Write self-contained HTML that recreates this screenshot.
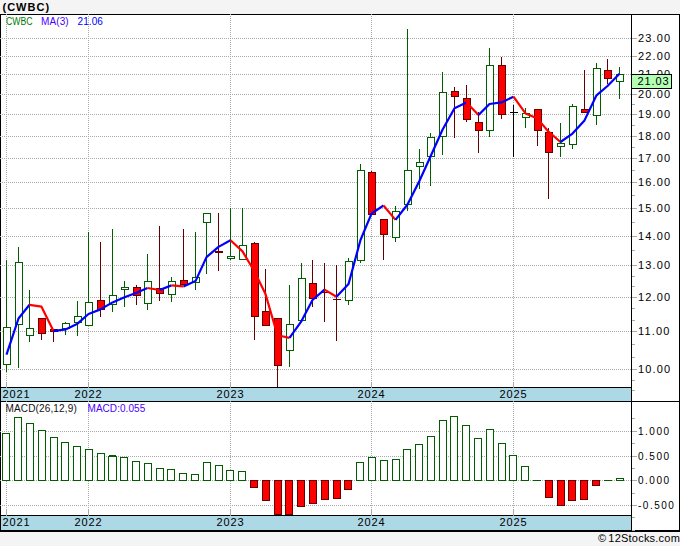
<!DOCTYPE html>
<html><head><meta charset="utf-8"><style>
html,body{margin:0;padding:0;width:680px;height:546px;overflow:hidden;background:#f4f4f4}
#c{position:relative;width:680px;height:546px}
svg{position:absolute;left:0;top:0}
.t{position:absolute;white-space:nowrap;font-family:"Liberation Sans",sans-serif}
</style></head><body><div id="c">
<svg width="680" height="546" viewBox="0 0 680 546" shape-rendering="crispEdges">
<rect x="0" y="0" width="680" height="546" fill="#f4f4f4"/>
<rect x="0" y="14" width="680" height="518" fill="#ffffff"/>
<rect x="1" y="388" width="630" height="13" fill="#add8e6"/>
<rect x="1" y="516" width="630" height="14" fill="#add8e6"/>
<rect x="0" y="14" width="680" height="1" fill="#000"/>
<rect x="0" y="14" width="1" height="518" fill="#000"/>
<rect x="679" y="14" width="1" height="518" fill="#000"/>
<rect x="631" y="14" width="1" height="518" fill="#000"/>
<rect x="0" y="387" width="632" height="1" fill="#000"/>
<rect x="0" y="401" width="680" height="1" fill="#000"/>
<rect x="0" y="515" width="632" height="1" fill="#000"/>
<rect x="0" y="530" width="680" height="2" fill="#000"/>
<path d="M0 38.5H631 M0 56.5H631 M0 74.5H631 M0 94.5H631 M0 114.5H631 M0 136.5H631 M0 158.5H631 M0 182.5H631 M0 208.5H631 M0 236.5H631 M0 265.5H631 M0 297.5H631 M0 331.5H631 M0 369.5H631 M6.5 14V383 M88.5 14V383 M230.5 14V383 M371.5 14V383 M513.5 14V383 M0 431.5H631 M0 456.5H631 M0 480.5H631 M0 505.5H631 M6.5 401V509 M88.5 401V509 M230.5 401V509 M371.5 401V509 M513.5 401V509" stroke="#aaaaaa" stroke-width="1" stroke-dasharray="1 1" fill="none"/>
<rect x="6" y="382" width="1" height="6" fill="#aaaaaa"/>
<rect x="6" y="509" width="1" height="7" fill="#aaaaaa"/>
<rect x="88" y="382" width="1" height="6" fill="#aaaaaa"/>
<rect x="88" y="509" width="1" height="7" fill="#aaaaaa"/>
<rect x="230" y="382" width="1" height="6" fill="#aaaaaa"/>
<rect x="230" y="509" width="1" height="7" fill="#aaaaaa"/>
<rect x="371" y="382" width="1" height="6" fill="#aaaaaa"/>
<rect x="371" y="509" width="1" height="7" fill="#aaaaaa"/>
<rect x="513" y="382" width="1" height="6" fill="#aaaaaa"/>
<rect x="513" y="509" width="1" height="7" fill="#aaaaaa"/>
<rect x="632" y="38" width="5" height="1" fill="#aaaaaa"/>
<rect x="632" y="56" width="5" height="1" fill="#aaaaaa"/>
<rect x="632" y="74" width="5" height="1" fill="#aaaaaa"/>
<rect x="632" y="94" width="5" height="1" fill="#aaaaaa"/>
<rect x="632" y="114" width="5" height="1" fill="#aaaaaa"/>
<rect x="632" y="136" width="5" height="1" fill="#aaaaaa"/>
<rect x="632" y="158" width="5" height="1" fill="#aaaaaa"/>
<rect x="632" y="182" width="5" height="1" fill="#aaaaaa"/>
<rect x="632" y="208" width="5" height="1" fill="#aaaaaa"/>
<rect x="632" y="236" width="5" height="1" fill="#aaaaaa"/>
<rect x="632" y="265" width="5" height="1" fill="#aaaaaa"/>
<rect x="632" y="297" width="5" height="1" fill="#aaaaaa"/>
<rect x="632" y="331" width="5" height="1" fill="#aaaaaa"/>
<rect x="632" y="369" width="5" height="1" fill="#aaaaaa"/>
<rect x="632" y="104" width="3" height="1" fill="#aaaaaa"/>
<rect x="632" y="125" width="3" height="1" fill="#aaaaaa"/>
<rect x="632" y="147" width="3" height="1" fill="#aaaaaa"/>
<rect x="632" y="170" width="3" height="1" fill="#aaaaaa"/>
<rect x="632" y="195" width="3" height="1" fill="#aaaaaa"/>
<rect x="632" y="222" width="3" height="1" fill="#aaaaaa"/>
<rect x="632" y="250" width="3" height="1" fill="#aaaaaa"/>
<rect x="632" y="276" width="3" height="1" fill="#aaaaaa"/>
<rect x="632" y="286" width="3" height="1" fill="#aaaaaa"/>
<rect x="632" y="308" width="3" height="1" fill="#aaaaaa"/>
<rect x="632" y="320" width="3" height="1" fill="#aaaaaa"/>
<rect x="632" y="344" width="3" height="1" fill="#aaaaaa"/>
<rect x="632" y="357" width="3" height="1" fill="#aaaaaa"/>
<rect x="632" y="380" width="3" height="1" fill="#aaaaaa"/>
<rect x="632" y="390" width="3" height="1" fill="#aaaaaa"/>
<rect x="632" y="431" width="5" height="1" fill="#aaaaaa"/>
<rect x="632" y="456" width="5" height="1" fill="#aaaaaa"/>
<rect x="632" y="480" width="5" height="1" fill="#aaaaaa"/>
<rect x="632" y="505" width="5" height="1" fill="#aaaaaa"/>
<rect x="632" y="418" width="3" height="1" fill="#aaaaaa"/>
<rect x="632" y="443" width="3" height="1" fill="#aaaaaa"/>
<rect x="632" y="468" width="3" height="1" fill="#aaaaaa"/>
<rect x="632" y="493" width="3" height="1" fill="#aaaaaa"/>
<rect x="632" y="517" width="3" height="1" fill="#aaaaaa"/>
<rect x="632" y="530" width="3" height="1" fill="#aaaaaa"/>
<rect x="6" y="260" width="1" height="112" fill="#005e00"/>
<rect x="3" y="327" width="8" height="38" fill="#005e00"/>
<rect x="4" y="328" width="6" height="36" fill="#ffffff"/>
<rect x="18" y="247" width="1" height="121" fill="#005e00"/>
<rect x="15" y="262" width="8" height="63" fill="#005e00"/>
<rect x="16" y="263" width="6" height="61" fill="#ffffff"/>
<rect x="29" y="290" width="1" height="52" fill="#005e00"/>
<rect x="26" y="328" width="8" height="8" fill="#005e00"/>
<rect x="27" y="329" width="6" height="6" fill="#ffffff"/>
<rect x="41" y="318" width="1" height="22" fill="#640000"/>
<rect x="38" y="318" width="8" height="16" fill="#640000"/>
<rect x="39" y="319" width="6" height="14" fill="#ff0000"/>
<rect x="53" y="329" width="1" height="13" fill="#640000"/>
<rect x="50" y="329" width="8" height="3" fill="#640000"/>
<rect x="51" y="330" width="6" height="1" fill="#ff0000"/>
<rect x="65" y="322" width="1" height="13" fill="#005e00"/>
<rect x="62" y="323" width="8" height="6" fill="#005e00"/>
<rect x="63" y="324" width="6" height="4" fill="#ffffff"/>
<rect x="77" y="301" width="1" height="35" fill="#005e00"/>
<rect x="74" y="316" width="8" height="7" fill="#005e00"/>
<rect x="75" y="317" width="6" height="5" fill="#ffffff"/>
<rect x="88" y="232" width="1" height="94" fill="#005e00"/>
<rect x="85" y="302" width="8" height="24" fill="#005e00"/>
<rect x="86" y="303" width="6" height="22" fill="#ffffff"/>
<rect x="100" y="242" width="1" height="75" fill="#640000"/>
<rect x="97" y="300" width="8" height="10" fill="#640000"/>
<rect x="98" y="301" width="6" height="8" fill="#ff0000"/>
<rect x="112" y="229" width="1" height="83" fill="#005e00"/>
<rect x="109" y="295" width="8" height="10" fill="#005e00"/>
<rect x="110" y="296" width="6" height="8" fill="#ffffff"/>
<rect x="124" y="281" width="1" height="26" fill="#005e00"/>
<rect x="121" y="287" width="8" height="3" fill="#005e00"/>
<rect x="122" y="288" width="6" height="1" fill="#ffffff"/>
<rect x="136" y="285" width="1" height="20" fill="#640000"/>
<rect x="133" y="287" width="8" height="9" fill="#640000"/>
<rect x="134" y="288" width="6" height="7" fill="#ff0000"/>
<rect x="147" y="254" width="1" height="56" fill="#005e00"/>
<rect x="144" y="281" width="8" height="23" fill="#005e00"/>
<rect x="145" y="282" width="6" height="21" fill="#ffffff"/>
<rect x="159" y="226" width="1" height="75" fill="#640000"/>
<rect x="156" y="288" width="8" height="6" fill="#640000"/>
<rect x="157" y="289" width="6" height="4" fill="#ff0000"/>
<rect x="171" y="277" width="1" height="25" fill="#005e00"/>
<rect x="168" y="281" width="8" height="14" fill="#005e00"/>
<rect x="169" y="282" width="6" height="12" fill="#ffffff"/>
<rect x="183" y="229" width="1" height="56" fill="#640000"/>
<rect x="180" y="280" width="8" height="5" fill="#640000"/>
<rect x="181" y="281" width="6" height="3" fill="#ff0000"/>
<rect x="195" y="232" width="1" height="58" fill="#005e00"/>
<rect x="192" y="277" width="8" height="6" fill="#005e00"/>
<rect x="193" y="278" width="6" height="4" fill="#ffffff"/>
<rect x="206" y="213" width="1" height="61" fill="#005e00"/>
<rect x="203" y="213" width="8" height="10" fill="#005e00"/>
<rect x="204" y="214" width="6" height="8" fill="#ffffff"/>
<rect x="218" y="213" width="1" height="58" fill="#640000"/>
<rect x="215" y="251" width="8" height="2" fill="#640000"/>
<rect x="230" y="208" width="1" height="52" fill="#005e00"/>
<rect x="227" y="256" width="8" height="3" fill="#005e00"/>
<rect x="228" y="257" width="6" height="1" fill="#ffffff"/>
<rect x="242" y="208" width="1" height="52" fill="#005e00"/>
<rect x="239" y="245" width="8" height="15" fill="#005e00"/>
<rect x="240" y="246" width="6" height="13" fill="#ffffff"/>
<rect x="254" y="242" width="1" height="98" fill="#640000"/>
<rect x="251" y="243" width="8" height="74" fill="#640000"/>
<rect x="252" y="244" width="6" height="72" fill="#ff0000"/>
<rect x="265" y="269" width="1" height="57" fill="#640000"/>
<rect x="262" y="311" width="8" height="15" fill="#640000"/>
<rect x="263" y="312" width="6" height="13" fill="#ff0000"/>
<rect x="277" y="318" width="1" height="69" fill="#640000"/>
<rect x="274" y="318" width="8" height="48" fill="#640000"/>
<rect x="275" y="319" width="6" height="46" fill="#ff0000"/>
<rect x="289" y="285" width="1" height="82" fill="#005e00"/>
<rect x="286" y="324" width="8" height="27" fill="#005e00"/>
<rect x="287" y="325" width="6" height="25" fill="#ffffff"/>
<rect x="301" y="263" width="1" height="58" fill="#005e00"/>
<rect x="298" y="278" width="8" height="43" fill="#005e00"/>
<rect x="299" y="279" width="6" height="41" fill="#ffffff"/>
<rect x="312" y="260" width="1" height="47" fill="#640000"/>
<rect x="309" y="283" width="8" height="16" fill="#640000"/>
<rect x="310" y="284" width="6" height="14" fill="#ff0000"/>
<rect x="324" y="263" width="1" height="59" fill="#640000"/>
<rect x="321" y="292" width="8" height="1" fill="#640000"/>
<rect x="336" y="265" width="1" height="76" fill="#640000"/>
<rect x="333" y="299" width="8" height="1" fill="#640000"/>
<rect x="348" y="258" width="1" height="47" fill="#005e00"/>
<rect x="345" y="261" width="8" height="40" fill="#005e00"/>
<rect x="346" y="262" width="6" height="38" fill="#ffffff"/>
<rect x="360" y="164" width="1" height="99" fill="#005e00"/>
<rect x="357" y="170" width="8" height="91" fill="#005e00"/>
<rect x="358" y="171" width="6" height="89" fill="#ffffff"/>
<rect x="371" y="171" width="1" height="44" fill="#640000"/>
<rect x="368" y="172" width="8" height="43" fill="#640000"/>
<rect x="369" y="173" width="6" height="41" fill="#ff0000"/>
<rect x="383" y="219" width="1" height="41" fill="#640000"/>
<rect x="380" y="219" width="8" height="16" fill="#640000"/>
<rect x="381" y="220" width="6" height="14" fill="#ff0000"/>
<rect x="395" y="206" width="1" height="36" fill="#005e00"/>
<rect x="392" y="211" width="8" height="27" fill="#005e00"/>
<rect x="393" y="212" width="6" height="25" fill="#ffffff"/>
<rect x="407" y="29" width="1" height="182" fill="#005e00"/>
<rect x="404" y="170" width="8" height="35" fill="#005e00"/>
<rect x="405" y="171" width="6" height="33" fill="#ffffff"/>
<rect x="419" y="149" width="1" height="40" fill="#005e00"/>
<rect x="416" y="162" width="8" height="5" fill="#005e00"/>
<rect x="417" y="163" width="6" height="3" fill="#ffffff"/>
<rect x="430" y="133" width="1" height="53" fill="#005e00"/>
<rect x="427" y="137" width="8" height="20" fill="#005e00"/>
<rect x="428" y="138" width="6" height="18" fill="#ffffff"/>
<rect x="442" y="72" width="1" height="83" fill="#005e00"/>
<rect x="439" y="92" width="8" height="45" fill="#005e00"/>
<rect x="440" y="93" width="6" height="43" fill="#ffffff"/>
<rect x="454" y="87" width="1" height="51" fill="#640000"/>
<rect x="451" y="91" width="8" height="6" fill="#640000"/>
<rect x="452" y="92" width="6" height="4" fill="#ff0000"/>
<rect x="466" y="85" width="1" height="37" fill="#640000"/>
<rect x="463" y="98" width="8" height="22" fill="#640000"/>
<rect x="464" y="99" width="6" height="20" fill="#ff0000"/>
<rect x="478" y="112" width="1" height="41" fill="#640000"/>
<rect x="475" y="122" width="8" height="9" fill="#640000"/>
<rect x="476" y="123" width="6" height="7" fill="#ff0000"/>
<rect x="489" y="48" width="1" height="89" fill="#005e00"/>
<rect x="486" y="65" width="8" height="66" fill="#005e00"/>
<rect x="487" y="66" width="6" height="64" fill="#ffffff"/>
<rect x="501" y="57" width="1" height="62" fill="#640000"/>
<rect x="498" y="65" width="8" height="50" fill="#640000"/>
<rect x="499" y="66" width="6" height="48" fill="#ff0000"/>
<rect x="513" y="105" width="1" height="52" fill="#000"/>
<rect x="510" y="112" width="8" height="1" fill="#000"/>
<rect x="525" y="108" width="1" height="20" fill="#005e00"/>
<rect x="522" y="113" width="8" height="5" fill="#005e00"/>
<rect x="523" y="114" width="6" height="3" fill="#ffffff"/>
<rect x="537" y="109" width="1" height="37" fill="#640000"/>
<rect x="534" y="109" width="8" height="22" fill="#640000"/>
<rect x="535" y="110" width="6" height="20" fill="#ff0000"/>
<rect x="548" y="128" width="1" height="71" fill="#640000"/>
<rect x="545" y="132" width="8" height="21" fill="#640000"/>
<rect x="546" y="133" width="6" height="19" fill="#ff0000"/>
<rect x="560" y="123" width="1" height="34" fill="#005e00"/>
<rect x="557" y="143" width="8" height="4" fill="#005e00"/>
<rect x="558" y="144" width="6" height="2" fill="#ffffff"/>
<rect x="572" y="104" width="1" height="45" fill="#005e00"/>
<rect x="569" y="106" width="8" height="39" fill="#005e00"/>
<rect x="570" y="107" width="6" height="37" fill="#ffffff"/>
<rect x="584" y="70" width="1" height="43" fill="#640000"/>
<rect x="581" y="109" width="8" height="4" fill="#640000"/>
<rect x="582" y="110" width="6" height="2" fill="#ff0000"/>
<rect x="596" y="63" width="1" height="62" fill="#005e00"/>
<rect x="593" y="68" width="8" height="48" fill="#005e00"/>
<rect x="594" y="69" width="6" height="46" fill="#ffffff"/>
<rect x="607" y="59" width="1" height="25" fill="#640000"/>
<rect x="604" y="70" width="8" height="9" fill="#640000"/>
<rect x="605" y="71" width="6" height="7" fill="#ff0000"/>
<rect x="619" y="67" width="1" height="32" fill="#005e00"/>
<rect x="616" y="74" width="8" height="8" fill="#005e00"/>
<rect x="617" y="75" width="6" height="6" fill="#ffffff"/>
<polyline points="6.5,354.6 18.5,318.5 29.5,304.8" fill="none" stroke="#0000ff" stroke-width="2.2" stroke-linejoin="round" stroke-linecap="butt" shape-rendering="geometricPrecision"/>
<polyline points="29.5,304.8 41.5,306.7 53.5,331.1" fill="none" stroke="#ff0000" stroke-width="2.2" stroke-linejoin="round" stroke-linecap="butt" shape-rendering="geometricPrecision"/>
<polyline points="53.5,331.1 65.5,329.4 77.5,323.7 88.5,314.0 100.5,309.4 112.5,302.4 124.5,297.3 136.5,292.7 147.5,288.0" fill="none" stroke="#0000ff" stroke-width="2.2" stroke-linejoin="round" stroke-linecap="butt" shape-rendering="geometricPrecision"/>
<polyline points="147.5,288.0 159.5,290.0" fill="none" stroke="#ff0000" stroke-width="2.2" stroke-linejoin="round" stroke-linecap="butt" shape-rendering="geometricPrecision"/>
<polyline points="159.5,290.0 171.5,285.4" fill="none" stroke="#0000ff" stroke-width="2.2" stroke-linejoin="round" stroke-linecap="butt" shape-rendering="geometricPrecision"/>
<polyline points="171.5,285.4 183.5,286.4" fill="none" stroke="#ff0000" stroke-width="2.2" stroke-linejoin="round" stroke-linecap="butt" shape-rendering="geometricPrecision"/>
<polyline points="183.5,286.4 195.5,281.1 206.5,257.1 218.5,246.9 230.5,240.3" fill="none" stroke="#0000ff" stroke-width="2.2" stroke-linejoin="round" stroke-linecap="butt" shape-rendering="geometricPrecision"/>
<polyline points="230.5,240.3 242.5,251.4 254.5,271.5 265.5,294.1 277.5,335.2 289.5,337.9" fill="none" stroke="#ff0000" stroke-width="2.2" stroke-linejoin="round" stroke-linecap="butt" shape-rendering="geometricPrecision"/>
<polyline points="289.5,337.9 301.5,321.1 312.5,300.0 324.5,289.6" fill="none" stroke="#0000ff" stroke-width="2.2" stroke-linejoin="round" stroke-linecap="butt" shape-rendering="geometricPrecision"/>
<polyline points="324.5,289.6 336.5,296.7" fill="none" stroke="#ff0000" stroke-width="2.2" stroke-linejoin="round" stroke-linecap="butt" shape-rendering="geometricPrecision"/>
<polyline points="336.5,296.7 348.5,284.1 360.5,240.0 371.5,213.7 383.5,205.5" fill="none" stroke="#0000ff" stroke-width="2.2" stroke-linejoin="round" stroke-linecap="butt" shape-rendering="geometricPrecision"/>
<polyline points="383.5,205.5 395.5,219.9" fill="none" stroke="#ff0000" stroke-width="2.2" stroke-linejoin="round" stroke-linecap="butt" shape-rendering="geometricPrecision"/>
<polyline points="395.5,219.9 407.5,204.5 419.5,180.8 430.5,156.5 442.5,129.7 454.5,108.2 466.5,102.6" fill="none" stroke="#0000ff" stroke-width="2.2" stroke-linejoin="round" stroke-linecap="butt" shape-rendering="geometricPrecision"/>
<polyline points="466.5,102.6 478.5,115.1" fill="none" stroke="#ff0000" stroke-width="2.2" stroke-linejoin="round" stroke-linecap="butt" shape-rendering="geometricPrecision"/>
<polyline points="478.5,115.1 489.5,104.0 501.5,102.4 513.5,96.7" fill="none" stroke="#0000ff" stroke-width="2.2" stroke-linejoin="round" stroke-linecap="butt" shape-rendering="geometricPrecision"/>
<polyline points="513.5,96.7 525.5,113.4 537.5,118.6 548.5,131.7 560.5,142.0" fill="none" stroke="#ff0000" stroke-width="2.2" stroke-linejoin="round" stroke-linecap="butt" shape-rendering="geometricPrecision"/>
<polyline points="560.5,142.0 572.5,133.6 584.5,120.4 596.5,95.3 607.5,86.0 619.5,73.7" fill="none" stroke="#0000ff" stroke-width="2.2" stroke-linejoin="round" stroke-linecap="butt" shape-rendering="geometricPrecision"/>
<rect x="2" y="433" width="8" height="48" fill="#005e00"/>
<rect x="3" y="434" width="6" height="46" fill="#ffffff"/>
<rect x="14" y="417" width="8" height="64" fill="#005e00"/>
<rect x="15" y="418" width="6" height="62" fill="#ffffff"/>
<rect x="26" y="423" width="8" height="58" fill="#005e00"/>
<rect x="27" y="424" width="6" height="56" fill="#ffffff"/>
<rect x="38" y="430" width="8" height="51" fill="#005e00"/>
<rect x="39" y="431" width="6" height="49" fill="#ffffff"/>
<rect x="50" y="437" width="8" height="44" fill="#005e00"/>
<rect x="51" y="438" width="6" height="42" fill="#ffffff"/>
<rect x="61" y="442" width="8" height="39" fill="#005e00"/>
<rect x="62" y="443" width="6" height="37" fill="#ffffff"/>
<rect x="73" y="446" width="8" height="35" fill="#005e00"/>
<rect x="74" y="447" width="6" height="33" fill="#ffffff"/>
<rect x="85" y="449" width="8" height="32" fill="#005e00"/>
<rect x="86" y="450" width="6" height="30" fill="#ffffff"/>
<rect x="97" y="453" width="8" height="28" fill="#005e00"/>
<rect x="98" y="454" width="6" height="26" fill="#ffffff"/>
<rect x="108" y="456" width="9" height="25" fill="#005e00"/>
<rect x="109" y="457" width="7" height="23" fill="#ffffff"/>
<rect x="109" y="455" width="7" height="1" fill="#005e00"/>
<rect x="120" y="457" width="8" height="24" fill="#005e00"/>
<rect x="121" y="458" width="6" height="22" fill="#ffffff"/>
<rect x="132" y="461" width="8" height="20" fill="#005e00"/>
<rect x="133" y="462" width="6" height="18" fill="#ffffff"/>
<rect x="144" y="463" width="8" height="18" fill="#005e00"/>
<rect x="145" y="464" width="6" height="16" fill="#ffffff"/>
<rect x="156" y="468" width="8" height="13" fill="#005e00"/>
<rect x="157" y="469" width="6" height="11" fill="#ffffff"/>
<rect x="167" y="469" width="8" height="12" fill="#005e00"/>
<rect x="168" y="470" width="6" height="10" fill="#ffffff"/>
<rect x="179" y="473" width="8" height="8" fill="#005e00"/>
<rect x="180" y="474" width="6" height="6" fill="#ffffff"/>
<rect x="191" y="474" width="8" height="7" fill="#005e00"/>
<rect x="192" y="475" width="6" height="5" fill="#ffffff"/>
<rect x="203" y="462" width="8" height="19" fill="#005e00"/>
<rect x="204" y="463" width="6" height="17" fill="#ffffff"/>
<rect x="215" y="465" width="8" height="16" fill="#005e00"/>
<rect x="216" y="466" width="6" height="14" fill="#ffffff"/>
<rect x="226" y="470" width="8" height="11" fill="#005e00"/>
<rect x="227" y="471" width="6" height="9" fill="#ffffff"/>
<rect x="238" y="471" width="8" height="10" fill="#005e00"/>
<rect x="239" y="472" width="6" height="8" fill="#ffffff"/>
<rect x="250" y="480" width="8" height="8" fill="#640000"/>
<rect x="251" y="481" width="6" height="6" fill="#ff0000"/>
<rect x="262" y="480" width="8" height="21" fill="#640000"/>
<rect x="263" y="481" width="6" height="19" fill="#ff0000"/>
<rect x="274" y="480" width="8" height="35" fill="#640000"/>
<rect x="275" y="481" width="6" height="33" fill="#ff0000"/>
<rect x="285" y="480" width="8" height="35" fill="#640000"/>
<rect x="286" y="481" width="6" height="33" fill="#ff0000"/>
<rect x="297" y="480" width="8" height="27" fill="#640000"/>
<rect x="298" y="481" width="6" height="25" fill="#ff0000"/>
<rect x="309" y="480" width="8" height="24" fill="#640000"/>
<rect x="310" y="481" width="6" height="22" fill="#ff0000"/>
<rect x="321" y="480" width="8" height="20" fill="#640000"/>
<rect x="322" y="481" width="6" height="18" fill="#ff0000"/>
<rect x="333" y="480" width="8" height="19" fill="#640000"/>
<rect x="334" y="481" width="6" height="17" fill="#ff0000"/>
<rect x="344" y="480" width="8" height="10" fill="#640000"/>
<rect x="345" y="481" width="6" height="8" fill="#ff0000"/>
<rect x="356" y="462" width="8" height="19" fill="#005e00"/>
<rect x="357" y="463" width="6" height="17" fill="#ffffff"/>
<rect x="368" y="457" width="8" height="24" fill="#005e00"/>
<rect x="369" y="458" width="6" height="22" fill="#ffffff"/>
<rect x="380" y="460" width="8" height="21" fill="#005e00"/>
<rect x="381" y="461" width="6" height="19" fill="#ffffff"/>
<rect x="392" y="459" width="8" height="22" fill="#005e00"/>
<rect x="393" y="460" width="6" height="20" fill="#ffffff"/>
<rect x="403" y="449" width="8" height="32" fill="#005e00"/>
<rect x="404" y="450" width="6" height="30" fill="#ffffff"/>
<rect x="415" y="444" width="8" height="37" fill="#005e00"/>
<rect x="416" y="445" width="6" height="35" fill="#ffffff"/>
<rect x="427" y="436" width="8" height="45" fill="#005e00"/>
<rect x="428" y="437" width="6" height="43" fill="#ffffff"/>
<rect x="439" y="420" width="8" height="61" fill="#005e00"/>
<rect x="440" y="421" width="6" height="59" fill="#ffffff"/>
<rect x="450" y="416" width="8" height="65" fill="#005e00"/>
<rect x="451" y="417" width="6" height="63" fill="#ffffff"/>
<rect x="462" y="425" width="8" height="56" fill="#005e00"/>
<rect x="463" y="426" width="6" height="54" fill="#ffffff"/>
<rect x="474" y="438" width="8" height="43" fill="#005e00"/>
<rect x="475" y="439" width="6" height="41" fill="#ffffff"/>
<rect x="486" y="429" width="8" height="52" fill="#005e00"/>
<rect x="487" y="430" width="6" height="50" fill="#ffffff"/>
<rect x="498" y="443" width="8" height="38" fill="#005e00"/>
<rect x="499" y="444" width="6" height="36" fill="#ffffff"/>
<rect x="509" y="455" width="8" height="26" fill="#005e00"/>
<rect x="510" y="456" width="6" height="24" fill="#ffffff"/>
<rect x="521" y="466" width="8" height="15" fill="#005e00"/>
<rect x="522" y="467" width="6" height="13" fill="#ffffff"/>
<rect x="533" y="480" width="8" height="1" fill="#005e00"/>
<rect x="545" y="480" width="8" height="18" fill="#640000"/>
<rect x="546" y="481" width="6" height="16" fill="#ff0000"/>
<rect x="557" y="480" width="8" height="26" fill="#640000"/>
<rect x="558" y="481" width="6" height="24" fill="#ff0000"/>
<rect x="568" y="480" width="8" height="21" fill="#640000"/>
<rect x="569" y="481" width="6" height="19" fill="#ff0000"/>
<rect x="580" y="480" width="8" height="20" fill="#640000"/>
<rect x="581" y="481" width="6" height="18" fill="#ff0000"/>
<rect x="592" y="480" width="8" height="6" fill="#640000"/>
<rect x="593" y="481" width="6" height="4" fill="#ff0000"/>
<rect x="604" y="480" width="8" height="1" fill="#005e00"/>
<rect x="616" y="478" width="8" height="3" fill="#005e00"/>
<rect x="617" y="479" width="6" height="1" fill="#ffffff"/>
</svg>
<div class="t" style="left:2.5px;top:2.21px;font-size:11px;line-height:11px;color:#000;letter-spacing:1.0px;font-weight:bold;">(CWBC)</div><div class="t" style="left:5.5px;top:17.02px;font-size:10px;line-height:10px;color:#007800;letter-spacing:0px;font-weight:normal;transform:scaleX(0.87);transform-origin:0 0;">CWBC</div><div class="t" style="left:41px;top:17.02px;font-size:10px;line-height:10px;color:#4800ff;letter-spacing:0.1px;font-weight:normal;">MA(3)</div><div class="t" style="left:77.5px;top:17.02px;font-size:10px;line-height:10px;color:#0000ff;letter-spacing:0.1px;font-weight:normal;">21.06</div><div class="t" style="left:638px;top:32.71px;font-size:11px;line-height:11px;color:#000;letter-spacing:1.15px;font-weight:normal;">23.00</div><div class="t" style="left:638px;top:50.71px;font-size:11px;line-height:11px;color:#000;letter-spacing:1.15px;font-weight:normal;">22.00</div><div class="t" style="left:638px;top:68.71px;font-size:11px;line-height:11px;color:#000;letter-spacing:1.15px;font-weight:normal;">21.00</div><div class="t" style="left:638px;top:88.71px;font-size:11px;line-height:11px;color:#000;letter-spacing:1.15px;font-weight:normal;">20.00</div><div class="t" style="left:638px;top:108.71px;font-size:11px;line-height:11px;color:#000;letter-spacing:1.15px;font-weight:normal;">19.00</div><div class="t" style="left:638px;top:130.71px;font-size:11px;line-height:11px;color:#000;letter-spacing:1.15px;font-weight:normal;">18.00</div><div class="t" style="left:638px;top:152.71px;font-size:11px;line-height:11px;color:#000;letter-spacing:1.15px;font-weight:normal;">17.00</div><div class="t" style="left:638px;top:176.71px;font-size:11px;line-height:11px;color:#000;letter-spacing:1.15px;font-weight:normal;">16.00</div><div class="t" style="left:638px;top:202.71px;font-size:11px;line-height:11px;color:#000;letter-spacing:1.15px;font-weight:normal;">15.00</div><div class="t" style="left:638px;top:230.71px;font-size:11px;line-height:11px;color:#000;letter-spacing:1.15px;font-weight:normal;">14.00</div><div class="t" style="left:638px;top:259.71px;font-size:11px;line-height:11px;color:#000;letter-spacing:1.15px;font-weight:normal;">13.00</div><div class="t" style="left:638px;top:291.71px;font-size:11px;line-height:11px;color:#000;letter-spacing:1.15px;font-weight:normal;">12.00</div><div class="t" style="left:638px;top:325.71px;font-size:11px;line-height:11px;color:#000;letter-spacing:1.15px;font-weight:normal;">11.00</div><div class="t" style="left:638px;top:363.71px;font-size:11px;line-height:11px;color:#000;letter-spacing:1.15px;font-weight:normal;">10.00</div><div class="t" style="left:2.5px;top:388.71px;font-size:11px;line-height:11px;color:#000;letter-spacing:0.9px;font-weight:normal;">2021</div><div class="t" style="left:2.5px;top:516.71px;font-size:11px;line-height:11px;color:#000;letter-spacing:0.9px;font-weight:normal;">2021</div><div class="t" style="left:74.5px;top:388.71px;font-size:11px;line-height:11px;color:#000;letter-spacing:0.9px;font-weight:normal;">2022</div><div class="t" style="left:74.5px;top:516.71px;font-size:11px;line-height:11px;color:#000;letter-spacing:0.9px;font-weight:normal;">2022</div><div class="t" style="left:216.5px;top:388.71px;font-size:11px;line-height:11px;color:#000;letter-spacing:0.9px;font-weight:normal;">2023</div><div class="t" style="left:216.5px;top:516.71px;font-size:11px;line-height:11px;color:#000;letter-spacing:0.9px;font-weight:normal;">2023</div><div class="t" style="left:357.5px;top:388.71px;font-size:11px;line-height:11px;color:#000;letter-spacing:0.9px;font-weight:normal;">2024</div><div class="t" style="left:357.5px;top:516.71px;font-size:11px;line-height:11px;color:#000;letter-spacing:0.9px;font-weight:normal;">2024</div><div class="t" style="left:499.5px;top:388.71px;font-size:11px;line-height:11px;color:#000;letter-spacing:0.9px;font-weight:normal;">2025</div><div class="t" style="left:499.5px;top:516.71px;font-size:11px;line-height:11px;color:#000;letter-spacing:0.9px;font-weight:normal;">2025</div><div class="t" style="left:5.5px;top:403.82px;font-size:10px;line-height:10px;color:#101010;letter-spacing:0.15px;font-weight:normal;">MACD(26,12,9)</div><div class="t" style="left:87.5px;top:403.82px;font-size:10px;line-height:10px;color:#4a00ff;letter-spacing:0.05px;font-weight:normal;">MACD:0.055</div><div class="t" style="left:638px;top:427.32px;font-size:10px;line-height:10px;color:#000;letter-spacing:1.5px;font-weight:normal;">1.000</div><div class="t" style="left:638px;top:452.32px;font-size:10px;line-height:10px;color:#000;letter-spacing:1.5px;font-weight:normal;">0.500</div><div class="t" style="left:638px;top:476.32px;font-size:10px;line-height:10px;color:#000;letter-spacing:1.5px;font-weight:normal;">0.000</div><div class="t" style="left:638px;top:501.32px;font-size:10px;line-height:10px;color:#000;letter-spacing:1.5px;font-weight:normal;">-0.500</div><div class="t" style="left:598px;top:533.21px;font-size:11px;line-height:11px;color:#000;letter-spacing:0.22px;font-weight:normal;"><span style="margin-right:2px">&copy;</span>12Stocks.com</div><div style="position:absolute;left:631px;top:74px;width:39px;height:13px;border:1px solid #000;background:#b4ffb4"></div><div class="t" style="left:637.5px;top:75.71px;font-size:11px;line-height:11px;color:#000;letter-spacing:0.9px;font-weight:normal;">21.03</div>
</div></body></html>
